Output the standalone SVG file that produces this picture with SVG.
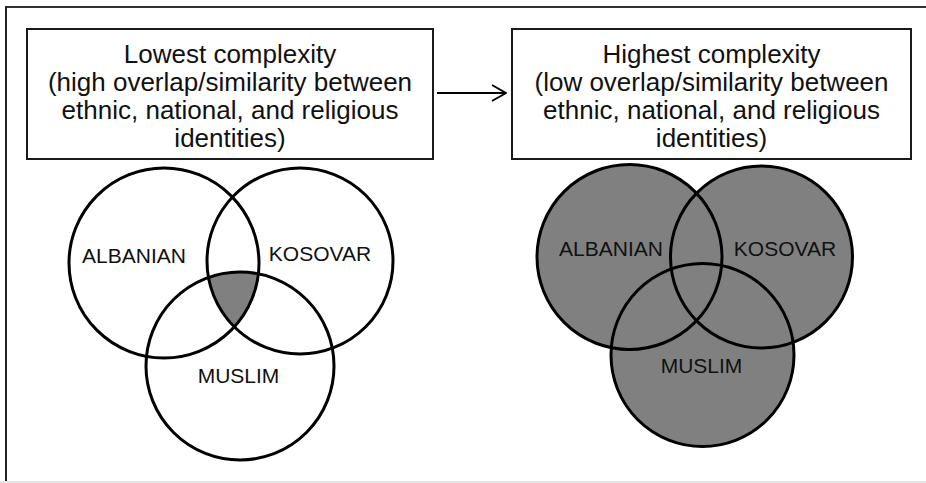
<svg xmlns="http://www.w3.org/2000/svg" width="926" height="483" viewBox="0 0 926 483">
<style>
.box{fill:#fff;stroke:#1a1a1a;stroke-width:2}
.bt{font-family:"Liberation Sans",Arial,sans-serif;font-size:26px;fill:#111;text-anchor:middle}
.lbl{font-family:"Liberation Sans",Arial,sans-serif;font-size:21px;fill:#111;text-anchor:middle}
.ring{fill:none;stroke:#000;stroke-width:3}
.gray{fill:#808080;stroke:none}
</style>
<defs>
<marker id="open" viewBox="0 0 16 18" refX="15" refY="9" markerWidth="16" markerHeight="18" markerUnits="userSpaceOnUse" orient="auto">
<path d="M1,1 L15,9 L1,17" fill="none" stroke="#000" stroke-width="2"/>
</marker>
<clipPath id="clipA"><circle cx="164" cy="263" r="95"/></clipPath>
<clipPath id="clipK"><circle cx="300" cy="261" r="93"/></clipPath>
</defs>
<rect width="926" height="483" fill="#fff"/>
<g id="frame">
<line x1="5" y1="7" x2="926" y2="7" stroke="#333" stroke-width="2"/>
<line x1="6" y1="6" x2="6" y2="481" stroke="#222" stroke-width="2"/>
<line x1="0" y1="482" x2="926" y2="482" stroke="#e6e6e6" stroke-width="2"/>
</g>
<g id="box-lowest">
<rect class="box" x="27" y="29" width="406" height="130"/>
<text class="bt" x="230" y="63">Lowest complexity</text>
<text class="bt" x="230" y="91">(high overlap/similarity between</text>
<text class="bt" x="230" y="119">ethnic, national, and religious</text>
<text class="bt" x="230" y="147">identities)</text>
</g>
<g id="box-highest">
<rect class="box" x="512" y="29" width="399" height="130"/>
<text class="bt" x="711.5" y="63">Highest complexity</text>
<text class="bt" x="711.5" y="91">(low overlap/similarity between</text>
<text class="bt" x="711.5" y="119">ethnic, national, and religious</text>
<text class="bt" x="711.5" y="147">identities)</text>
</g>
<g id="connectors">
<line x1="437" y1="93" x2="506" y2="93" stroke="#000" stroke-width="2" marker-end="url(#open)"/>
</g>
<g id="venn-left">
<g clip-path="url(#clipA)"><g clip-path="url(#clipK)"><circle class="gray" cx="240" cy="366" r="94"/></g></g>
<g id="left-albanian"><circle class="ring" cx="164" cy="263" r="95"/><text class="lbl" x="134" y="263">ALBANIAN</text></g>
<g id="left-kosovar"><circle class="ring" cx="300" cy="261" r="93"/><text class="lbl" x="320" y="261">KOSOVAR</text></g>
<g id="left-muslim"><circle class="ring" cx="240" cy="366" r="94"/><text class="lbl" x="238.5" y="383">MUSLIM</text></g>
</g>
<g id="venn-right">
<circle class="gray" cx="629.5" cy="257" r="92.5"/>
<circle class="gray" cx="761.5" cy="257" r="91"/>
<circle class="gray" cx="702.5" cy="355" r="91.5"/>
<g id="right-albanian"><circle class="ring" cx="629.5" cy="257" r="92.5"/><text class="lbl" x="611" y="256">ALBANIAN</text></g>
<g id="right-kosovar"><circle class="ring" cx="761.5" cy="257" r="91"/><text class="lbl" x="785" y="256">KOSOVAR</text></g>
<g id="right-muslim"><circle class="ring" cx="702.5" cy="355" r="91.5"/><text class="lbl" x="701.5" y="373">MUSLIM</text></g>
</g>
</svg>
